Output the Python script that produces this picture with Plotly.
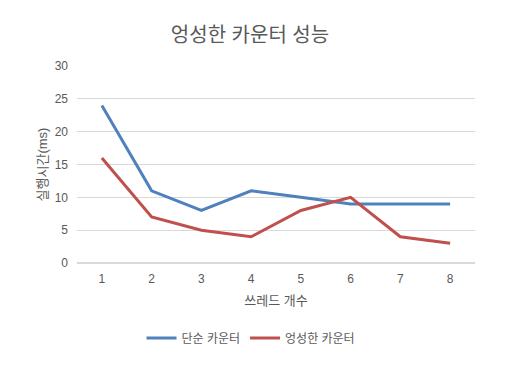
import plotly.graph_objects as go

threads = [1, 2, 3, 4, 5, 6, 7, 8]
simple_counter = [24, 11, 8, 11, 10, 9, 9, 9]
sloppy_counter = [16, 7, 5, 4, 8, 10, 4, 3]
y_ticks = [0, 5, 10, 15, 20, 25, 30]

FONT = "Liberation Sans, Noto Sans CJK KR, sans-serif"
GREY = "#595959"

# the page body has an 8px default margin, so the figure is sized to fit the window
fig = go.Figure()
fig.add_trace(go.Scatter(x=threads, y=simple_counter, mode="lines", name="단순 카운터",
                         line=dict(color="#4F81BD", width=3)))
fig.add_trace(go.Scatter(x=threads, y=sloppy_counter, mode="lines", name="엉성한 카운터",
                         line=dict(color="#C0504D", width=3)))

fig.update_layout(
    width=499, height=361,
    margin=dict(l=69, r=32, t=58, b=106, autoexpand=False),
    paper_bgcolor="white", plot_bgcolor="white",
    font=dict(family=FONT, color=GREY, size=12),
    title=dict(text="엉성한 카운터 성능", x=0.485, xref="container", xanchor="center",
               y=0.925, yref="container", yanchor="middle",
               font=dict(size=20, color=GREY, family=FONT)),
    showlegend=True,
    legend=dict(orientation="h", x=0.487, xref="container", xanchor="center",
                y=0.086, yref="container", yanchor="middle",
                font=dict(size=12, color=GREY)),
    xaxis=dict(range=[0.5, 8.5], tickvals=threads, ticktext=[str(t) for t in threads],
               showgrid=False, zeroline=False, showline=False, ticks="", automargin=False,
               ticklabelstandoff=7,
               title=dict(text="쓰레드 개수", font=dict(size=13, color=GREY), standoff=10)),
    yaxis=dict(range=[0, 30], tickvals=y_ticks, showgrid=True, gridcolor="#D9D9D9", gridwidth=1,
               zeroline=True, zerolinecolor="#D9D9D9", showline=False, ticks="",
               ticklabelstandoff=8, automargin=False,
               title=dict(text="실행시간(ms)", font=dict(size=13, color=GREY), standoff=4)),
)

fig.write_html("out.html")
